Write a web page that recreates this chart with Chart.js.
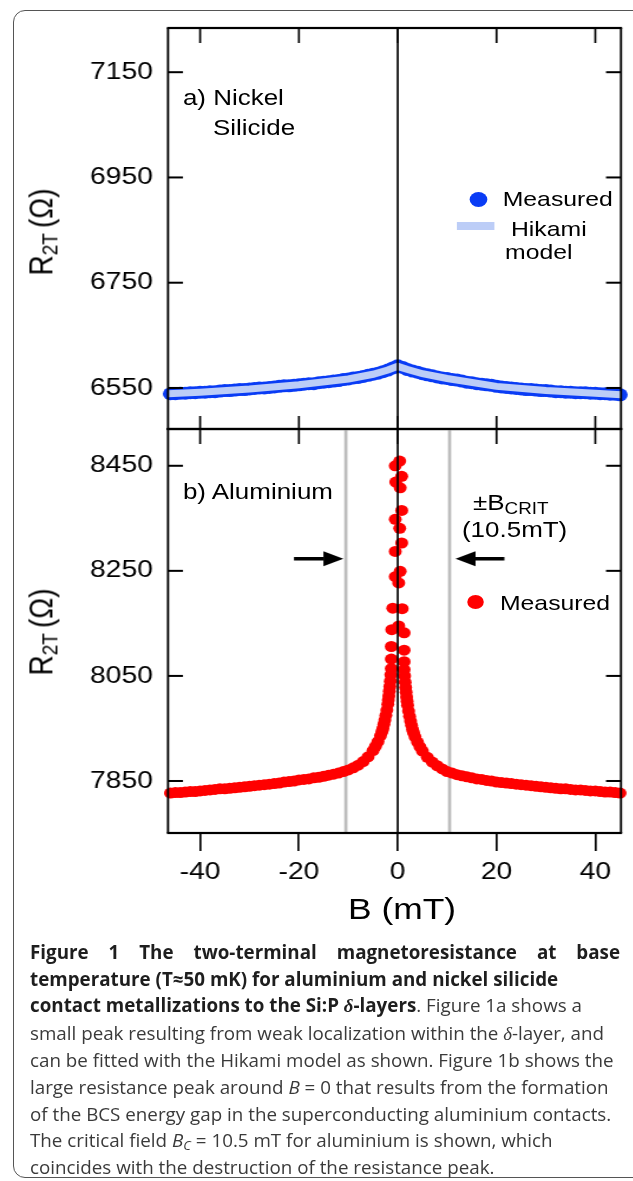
<!DOCTYPE html>
<html>
<head>
<meta charset="utf-8">
<script src="https://cdn.jsdelivr.net/npm/chart.js@4.4.1/dist/chart.umd.min.js"></script>
<style>
  body { margin: 0; width: 633px; height: 1181px; overflow: hidden; background: #fff; position: relative;
         font-family: "Liberation Sans", Arial, sans-serif; }
  #box { position: absolute; left: 13px; top: 10px; width: 700px; height: 1166px;
         border: 1.5px solid #555; border-radius: 12px; }
  /* the original figure is stretched sideways, so the whole plot is too */
  #fig { position: absolute; left: 0; top: 0; width: 537px; height: 940px;
         transform: scaleX(1.18); transform-origin: 0 0; }
  #fig canvas { position: absolute; left: 0; }
  .lbl { position: absolute; white-space: nowrap; color: #000; line-height: 1; }
  .s22 { font-size: 22px; }
  .s21 { font-size: 21px; }
  .dot { position: absolute; border-radius: 50%; }
  .ytitle { position: absolute; white-space: nowrap; font-size: 28px; line-height: 1;
            transform: translate(-50%, -50%) rotate(-90deg); }
  .ytitle sub { font-size: 19px; vertical-align: -5px; line-height: 0; }
  .ytitle span { margin-left: 5px; }
  .crit sub { font-size: 16px; vertical-align: -4px; line-height: 0; }
  #cap { position: absolute; left: 30px; top: 939px; font-family: "Open Sans", sans-serif;
         font-size: 18.8px; line-height: 26.6px; color: #3a3a3a; font-weight: 400; }
  #cap div { white-space: nowrap; }
  #cap b { color: #1e1e1e; font-weight: 700; }
  #cap .l1 { width: 590px; text-align: justify; text-align-last: justify; }
  #cap .d { font-family: "Liberation Serif", serif; }
  #cap sub { font-size: 0.7em; vertical-align: -0.25em; line-height: 0; }
</style>
</head>
<body>
<div id="box"></div>
<div id="fig">
  <canvas id="niChart" width="537" height="440" style="top:0"></canvas>
  <canvas id="alChart" width="537" height="480" style="top:420px"></canvas>

  <div class="lbl s22" style="left:155px; top:87px">a) Nickel</div>
  <div class="lbl s22" style="left:180.5px; top:117px">Silicide</div>
  <div class="dot" style="left:397.6px; top:191.5px; width:15px; height:15px; background:#0a3cf5"></div>
  <div class="lbl s21" style="left:426px; top:188px">Measured</div>
  <div style="position:absolute; left:387.3px; top:222px; width:32.2px; height:8px; background:#bccdf7"></div>
  <div class="lbl s21" style="left:433px; top:218px">Hikami</div>
  <div class="lbl s21" style="left:428px; top:241px">model</div>

  <div class="lbl s22" style="left:155px; top:481px">b) Aluminium</div>
  <div class="lbl s22 crit" style="left:400.8px; top:492px">±B<sub>CRIT</sub></div>
  <div class="lbl s22" style="left:391.5px; top:519px">(10.5mT)</div>
  <div class="dot" style="left:396.4px; top:595px; width:14px; height:14px; background:#ff0000"></div>
  <div class="lbl s21" style="left:423.7px; top:592px">Measured</div>

  <div class="ytitle" style="left:34.7px; top:232px">R<sub>2T</sub><span>(Ω)</span></div>
  <div class="ytitle" style="left:34.7px; top:632px">R<sub>2T</sub><span>(Ω)</span></div>
  <div class="lbl" style="left:340.7px; top:894px; font-size:30px; transform:translateX(-50%)">B (mT)</div>
</div>

<div id="cap">
  <div class="l1"><b>Figure 1 The two-terminal magnetoresistance at base</b></div>
  <div><b>temperature (T≈50 mK) for aluminium and nickel silicide</b></div>
  <div><b>contact metallizations to the Si:P <i class="d">δ</i>-layers</b>. Figure 1a shows a</div>
  <div>small peak resulting from weak localization within the <i class="d">δ</i>-layer, and</div>
  <div>can be fitted with the Hikami model as shown. Figure 1b shows the</div>
  <div>large resistance peak around <i>B</i> = 0 that results from the formation</div>
  <div>of the BCS energy gap in the superconducting aluminium contacts.</div>
  <div>The critical field <i>B<sub>C</sub></i> = 10.5 mT for aluminium is shown, which</div>
  <div>coincides with the destruction of the resistance peak.</div>
</div>

<script>
const S = 1.18; // horizontal stretch of the figure

// a) nickel silicide, measured
const niB = [-46, -45, -44, -43, -42, -41, -40, -39, -38, -37, -36, -35, -34, -33, -32, -31, -30, -29, -28, -27,
  -26, -25, -24, -23, -22, -21, -20, -19, -18, -17, -16, -15, -14, -13, -12, -11, -10, -9, -8, -7, -6, -5, -4, -3,
  -2, -1, 0, 1, 2, 3, 4, 5, 6, 7, 8, 9, 10, 11, 12, 13, 14, 15, 16, 17, 18, 19, 20, 21, 22, 23, 24, 25, 26, 27, 28,
  29, 30, 31, 32, 33, 34, 35, 36, 37, 38, 39, 40, 41, 42, 43, 44, 45];
const niR = [6539, 6539, 6540, 6540, 6541, 6541, 6542, 6542, 6543, 6543, 6544, 6545, 6545, 6546, 6547, 6547, 6548,
  6549, 6550, 6550, 6551, 6552, 6553, 6554, 6554, 6555, 6556, 6557, 6558, 6558, 6560, 6561, 6562, 6563, 6564, 6566,
  6567, 6569, 6570, 6572, 6574, 6576, 6578, 6581, 6584, 6588, 6592, 6589, 6585, 6582, 6580, 6577, 6575, 6573, 6571,
  6569, 6568, 6566, 6565, 6563, 6561, 6560, 6558, 6557, 6556, 6555, 6553, 6552, 6551, 6550, 6549, 6548, 6547, 6547,
  6546, 6545, 6545, 6544, 6543, 6543, 6542, 6542, 6541, 6541, 6541, 6540, 6540, 6539, 6539, 6538, 6538, 6537];

// a) Hikami model fit
const hikB = [-46.5, -40, -30, -20, -10, -5, -2, 0, 2, 5, 10, 20, 30, 40, 45.2];
const hikR = [6539, 6542, 6548, 6556, 6567, 6576, 6584, 6591, 6585, 6577, 6568, 6553, 6545, 6540, 6537];

// b) aluminium, measured (smooth part)
const alB = [-46, -45, -44, -43, -42, -41, -40, -39, -38, -37, -36, -35, -34, -33, -32, -31, -30, -29, -28, -27,
  -26, -25, -24, -23, -22, -21, -20, -19, -18, -17, -16, -15, -14, -13, -12, -11, -10, -9, -8, -7, -6, -5, -4.5,
  -4, -3.5, -3.2, -3, -2.8, -2.6, -2.4, -2.2, -2, -1.9, -1.8, -1.7, -1.6, -1.5, -1.4, -1.3,
  1.3, 1.4, 1.5, 1.6, 1.7, 1.8, 1.9, 2, 2.2, 2.4, 2.6, 2.8, 3, 3.2, 3.5, 4, 4.5, 5, 6, 7, 8, 9, 10, 11, 12, 13,
  14, 15, 16, 17, 18, 19, 20, 21, 22, 23, 24, 25, 26, 27, 28, 29, 30, 31, 32, 33, 34, 35, 36, 37, 38, 39, 40, 41,
  42, 43, 44, 45];
const alR = [7827, 7828, 7828, 7829, 7830, 7830, 7831, 7832, 7833, 7834, 7835, 7835, 7836, 7837, 7838, 7839, 7840,
  7841, 7842, 7843, 7844, 7845, 7846, 7848, 7849, 7850, 7852, 7853, 7854, 7856, 7857, 7859, 7861, 7863, 7865, 7868,
  7871, 7875, 7880, 7887, 7896, 7908, 7916, 7925, 7936, 7944, 7950, 7958, 7966, 7975, 7985, 7996, 8004, 8012, 8021,
  8030, 8040, 8052, 8064,
  8062, 8050, 8038, 8028, 8019, 8010, 8002, 7994, 7983, 7973, 7964, 7956, 7948, 7942, 7934, 7924, 7915, 7907, 7895,
  7886, 7879, 7873, 7868, 7865, 7862, 7860, 7858, 7856, 7854, 7853, 7851, 7850, 7848, 7847, 7846, 7845, 7844, 7843,
  7842, 7841, 7840, 7839, 7838, 7837, 7836, 7835, 7835, 7834, 7833, 7833, 7832, 7831, 7831, 7830, 7829, 7829, 7828,
  7827];

// b) aluminium, the scattered points of the peak at B = 0
const peakB = [-0.5, 0.4, -0.4, 0.8, 0.5, 0.8, -0.5, 0.4, 0.8, -0.5, 0.5, -0.5, 0.2, -1.0, 0.9, -1.2, 0.2, 1.3,
  -1.3, 1.3, -1.3, 1.3];
const peakR = [8450, 8459, 8419, 8430, 8408, 8365, 8348, 8331, 8303, 8287, 8249, 8239, 8227, 8179, 8178, 8138, 8145,
  8132, 8106, 8099, 8082, 8077];

const xTicks = [-40, -20, 0, 20, 40];
const niTicks = [6550, 6750, 6950, 7150];
const alTicks = [7850, 8050, 8250, 8450];
const bCrit = [-10.5, 10.5];

const FONT = '"Liberation Sans", Arial, sans-serif';

function pts(xs, ys) {
  return xs.map((b, i) => ({ x: b, y: ys[i] }));
}

function vline(ctx, px, y1, y2, w) { ctx.fillRect(px - w / 2, y1, w, y2 - y1); }
function hline(ctx, py, x1, x2, h) { ctx.fillRect(x1, py - h / 2, x2 - x1, h); }

// frame, inward ticks, zero line, critical field lines and arrows
const framePlugin = {
  id: 'frame',
  beforeDatasetsDraw(chart, args, o) {
    const { ctx, chartArea: a } = chart;
    const x = chart.scales.x;
    ctx.save();
    ctx.fillStyle = '#bdbdbd';
    (o.crit || []).forEach(v => vline(ctx, x.getPixelForValue(v), a.top, a.bottom, 3.2 / S));
    ctx.restore();
  },
  afterDatasetsDraw(chart, args, o) {
    const { ctx, chartArea: a } = chart;
    const x = chart.scales.x, y = chart.scales.y;
    const vw = 2.2 / S;
    ctx.save();
    ctx.fillStyle = '#000';
    vline(ctx, x.getPixelForValue(0), a.top, a.bottom, 2 / S);
    hline(ctx, a.top, a.left - vw / 2, a.right + vw / 2, 2.2);
    hline(ctx, a.bottom, a.left - vw / 2, a.right + vw / 2, 2.2);
    vline(ctx, a.left, a.top, a.bottom, vw);
    vline(ctx, a.right, a.top, a.bottom, vw);
    y.ticks.forEach(t => {
      const py = y.getPixelForValue(t.value);
      hline(ctx, py, a.left, a.left + 15 / S, 2);
      hline(ctx, py, a.right - 15 / S, a.right, 2);
    });
    xTicks.forEach(v => {
      const px = x.getPixelForValue(v);
      if (o.top) vline(ctx, px, a.top, a.top + o.top, 2 / S);
      if (o.bottom) vline(ctx, px, a.bottom - o.bottom, a.bottom, 2 / S);
    });
    (o.arrows || []).forEach(ar => {
      const p1 = x.getPixelForValue(ar.from), p2 = x.getPixelForValue(ar.to);
      const py = y.getPixelForValue(ar.at);
      const dir = Math.sign(p2 - p1), L = 20 / S, h = 7.5;
      const base = p2 - dir * L;
      hline(ctx, py, Math.min(p1, base), Math.max(p1, base), 3.5);
      ctx.beginPath();
      ctx.moveTo(p2, py);
      ctx.lineTo(base, py - h);
      ctx.lineTo(base, py + h);
      ctx.closePath();
      ctx.fill();
    });
    ctx.restore();
  }
};

function yScale(min, max, ticks) {
  return {
    type: 'linear', min: min, max: max,
    afterBuildTicks: s => { s.ticks = ticks.map(v => ({ value: v })); },
    afterFit: s => { s.width = 168 / S; s.paddingTop = 0; s.paddingBottom = 0; },
    grid: { display: false, drawTicks: false },
    border: { display: false },
    ticks: { color: '#000', font: { family: FONT, size: 24 }, padding: 15 / S, callback: v => String(v) }
  };
}

const common = {
  responsive: false,
  animation: false,
  devicePixelRatio: 1,
  events: [],
  plugins: { legend: { display: false }, tooltip: { enabled: false } }
};

new Chart(document.getElementById('niChart'), {
  type: 'scatter',
  data: {
    datasets: [
      { data: pts(hikB, hikR), showLine: true, borderColor: '#bccdf7', borderWidth: 7, pointRadius: 0,
        tension: 0, order: 0 },
      { data: pts(niB, niR), pointRadius: 6.5, backgroundColor: '#0a3cf5', borderWidth: 0, clip: false, order: 1 }
    ]
  },
  options: Object.assign({}, common, {
    layout: { padding: { top: 28, bottom: 11, left: 0, right: 537 - 621 / S } },
    scales: {
      x: { type: 'linear', min: -46.5, max: 45.2, display: false },
      y: yScale(6472, 7234, niTicks)
    },
    plugins: Object.assign({}, common.plugins, { frame: { top: 15, bottom: 13 } })
  }),
  plugins: [framePlugin]
});

new Chart(document.getElementById('alChart'), {
  type: 'scatter',
  data: {
    datasets: [
      { data: pts(alB, alR).concat(pts(peakB, peakR)), pointRadius: 5.5, backgroundColor: '#ff0000',
        borderWidth: 0, clip: false }
    ]
  },
  options: Object.assign({}, common, {
    layout: { padding: { top: 9, bottom: 0, left: 0, right: 537 - 621 / S } },
    scales: {
      x: {
        type: 'linear', min: -46.5, max: 45.2,
        afterBuildTicks: s => { s.ticks = xTicks.map(v => ({ value: v })); },
        afterFit: s => { s.height = 67; },
        grid: { display: true, drawOnChartArea: false, drawTicks: true, tickLength: 18, color: '#000', lineWidth: 2 / S },
        border: { display: false },
        ticks: { color: '#000', font: { family: FONT, size: 24 }, padding: 7, maxRotation: 0, autoSkip: false,
                 callback: v => String(v) }
      },
      y: yScale(7751, 8520, alTicks)
    },
    plugins: Object.assign({}, common.plugins, {
      frame: {
        top: 15,
        crit: bCrit,
        arrows: [{ from: -21, to: -11, at: 8273 }, { from: 21.6, to: 11.7, at: 8273 }]
      }
    })
  }),
  plugins: [framePlugin]
});
</script>
</body>
</html>
